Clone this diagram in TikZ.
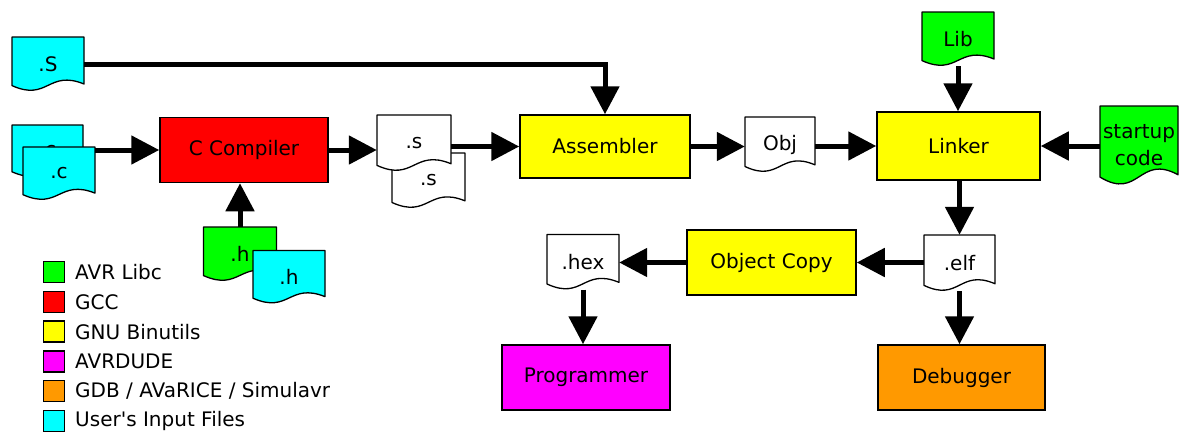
\documentclass[tikz,border=0pt]{standalone}
\usepackage{fontspec}
\setmainfont{DejaVu Sans}
\usetikzlibrary{arrows.meta,calc}

\definecolor{libcgreen}{RGB}{0,255,0}
\definecolor{gccred}{RGB}{255,0,0}
\definecolor{binyellow}{RGB}{255,255,0}
\definecolor{dudemagenta}{RGB}{255,0,255}
\definecolor{gdborange}{RGB}{255,153,0}
\definecolor{usercyan}{RGB}{0,255,255}

\tikzset{
  tool/.style={draw, fill=#1, line width=1.5pt, minimum width=168pt, minimum height=65pt, inner sep=0pt},
  docline/.style={line width=1.3pt, line join=round},
  flow/.style={line width=5pt, -{Triangle[length=28pt,width=28pt]}},
  key/.style={draw, fill=#1, line width=1.3pt, minimum width=21pt, minimum height=21pt, inner sep=0pt},
  keytext/.style={anchor=west, inner sep=0pt}
}

% file symbol: name, centre, width, height, fill, text
\newcommand\docnode[6]{%
  \coordinate (#1-c) at (#2);
  \draw[docline, fill=#5] ($(#1-c)+(-#3/2,-#4/2)$) -- ++(#3,0) -- ++(0,0.87*#4)
    .. controls ($(#1-c)+(0,0.1*#4)$) and ($(#1-c)+(0,0.7*#4)$) .. ($(#1-c)+(-#3/2,0.4*#4)$) -- cycle;
  \node[minimum width=#3pt, minimum height=#4pt, inner sep=0pt, align=center] (#1) at (#1-c) {#6};
}

\begin{document}
\begin{tikzpicture}[x=1pt, y=-1pt, font=\fontsize{20}{27}\selectfont]
  \useasboundingbox (0,0) rectangle (1180,432);

  % input files
  \docnode{S}{48,64}{72}{54}{usercyan}{.S}
  \docnode{cback}{47.5,151}{71}{52}{usercyan}{.c}
  \docnode{cfront}{59,173.5}{72}{53}{usercyan}{.c}
  \docnode{hgreen}{240,254}{73}{54}{libcgreen}{.h}
  \docnode{hcyan}{289,277}{72}{53}{usercyan}{.h}

  % tools
  \node[tool=gccred] (ccomp) at (244,150) {C Compiler};
  \node[tool=binyellow, minimum width=170pt, minimum height=63pt] (asm) at (605,146.5) {Assembler};
  \node[tool=binyellow, minimum width=163pt, minimum height=68pt] (linker) at (958.5,146) {Linker};
  \node[tool=binyellow, minimum width=169pt] (objcopy) at (771.5,262.5) {Object Copy};
  \node[tool=dudemagenta] (prog) at (586,377.5) {Programmer};
  \node[tool=gdborange, minimum width=167pt] (debug) at (961.5,377.5) {Debugger};

  % intermediate files
  \docnode{sback}{428.5,180.5}{73}{55}{white}{.s}
  \docnode{sfront}{414,143}{74}{56}{white}{.s}
  \docnode{obj}{780,144.5}{70}{55}{white}{Obj}
  \docnode{lib}{958,39}{72}{54}{libcgreen}{Lib}
  \docnode{startup}{1139,145.5}{78}{79}{libcgreen}{startup\\code}
  \docnode{elf}{959.5,263}{71}{56}{white}{.elf}
  \docnode{hex}{583,262}{72}{55}{white}{.hex}

  % connectors
  \draw[flow] (S.east) -| (asm.north);
  \draw[flow] (cfront.north east |- ccomp.west) -- (ccomp.west);
  \draw[flow] (hgreen.north) -- (hgreen.north |- ccomp.south);
  \draw[flow] (ccomp.east) -- (ccomp.east -| sfront.west);
  \draw[flow] (sfront.east |- asm.west) -- (asm.west);
  \draw[flow] (asm.east) -- (asm.east -| obj.west);
  \draw[flow] (obj.east |- linker.west) -- (linker.west);
  \draw[flow] (lib.south) -- (lib.south |- linker.north);
  \draw[flow] (startup.west |- linker.east) -- (linker.east);
  \draw[flow] (linker.south -| elf.north) -- (elf.north);
  \draw[flow] (elf.west |- objcopy.east) -- (objcopy.east);
  \draw[flow] (objcopy.west) -- (objcopy.west -| hex.east);
  \draw[flow] (hex.south) -- (hex.south |- prog.north);
  \draw[flow] (elf.south) -- (elf.south |- debug.north);

  % legend
  \node[key=libcgreen] (k1) at (54,272) {};
  \node[key=gccred] (k2) at (54,301.8) {};
  \node[key=binyellow] (k3) at (54,331.6) {};
  \node[key=dudemagenta] (k4) at (54,361.4) {};
  \node[key=gdborange] (k5) at (54,391.2) {};
  \node[key=usercyan] (k6) at (54,421) {};
  \node[keytext] (t1) at (75,272) {AVR Libc};
  \node[keytext] (t2) at (75,301.8) {GCC};
  \node[keytext] (t3) at (75,331.6) {GNU Binutils};
  \node[keytext] (t4) at (75,361.4) {AVRDUDE};
  \node[keytext] (t5) at (75,391.2) {GDB / AVaRICE / Simulavr};
  \node[keytext] (t6) at (75,421) {User\textquotesingle s Input Files};
\end{tikzpicture}
\end{document}
